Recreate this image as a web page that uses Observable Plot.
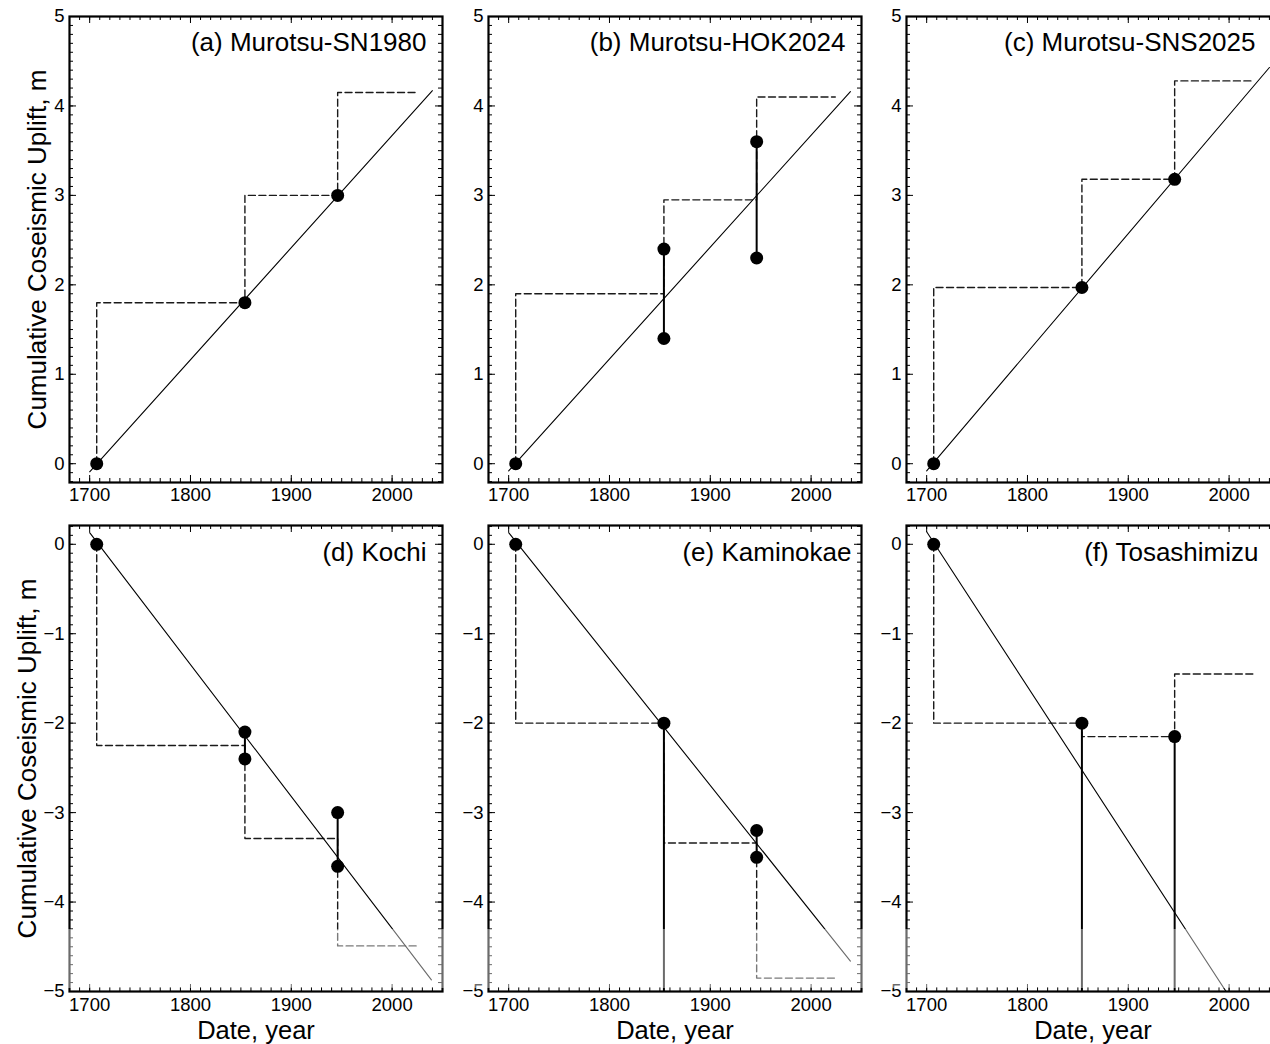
<!DOCTYPE html>
<html>
<head>
<meta charset="utf-8">
<script src="https://cdn.jsdelivr.net/npm/d3@7"></script>
<script src="https://cdn.jsdelivr.net/npm/@observablehq/plot@0.6"></script>
<style>
  body { margin: 0; background: #fff; }
  #fig { position: relative; width: 1270px; height: 1044px; overflow: hidden; background: #fff; }
  #fig svg { position: absolute; overflow: visible; }
  /* faded strip along the lower part of the bottom row */
  #haze { position: absolute; left: 66px; top: 929px; width: 1204px; height: 59px;
          background: rgba(255, 255, 255, 0.42); pointer-events: none; }
</style>
</head>
<body>
<div id="fig"></div>
<script>
const FONT = '"Liberation Sans", Arial, Helvetica, sans-serif';

// Shared axes
const xDomain = [1680, 2050];
const xTicks = [1700, 1800, 1900, 2000];
const xMinor = d3.range(168, 206).map(i => i * 10);
const upDomain = [-0.21, 5];
const upTicks = [0, 1, 2, 3, 4, 5];
const upMinor = d3.range(-2, 51).map(i => i / 10);
const downDomain = [-5, 0.21];
const downTicks = [-5, -4, -3, -2, -1, 0];
const downMinor = d3.range(-50, 3).map(i => i / 10);
const yTitle = "Cumulative Coseismic Uplift, m";
const xTitle = "Date, year";

// (a) Murotsu-SN1980 — [year, uplift]
const aPoints = [[1707, 0], [1854, 1.8], [1946, 3.0]];
const aRanges = [];
const aSteps = [[1707, 0], [1707, 1.8], [1854, 1.8], [1854, 3.0], [1946, 3.0], [1946, 4.15], [2024, 4.15]];
const aTrend = [[1700, -0.09], [2040, 4.17]];

// (b) Murotsu-HOK2024
const bPoints = [[1707, 0], [1854, 2.4], [1854, 1.4], [1946, 3.6], [1946, 2.3]];
const bRanges = [[1854, 1.4, 2.4], [1946, 2.3, 3.6]]; // [year, low, high]
const bSteps = [[1707, 0], [1707, 1.9], [1854, 1.9], [1854, 2.95], [1946, 2.95], [1946, 4.1], [2024, 4.1]];
const bTrend = [[1700, -0.08], [2039, 4.16]];

// (c) Murotsu-SNS2025
const cPoints = [[1707, 0], [1854, 1.97], [1946, 3.18]];
const cRanges = [];
const cSteps = [[1707, 0], [1707, 1.97], [1854, 1.97], [1854, 3.18], [1946, 3.18], [1946, 4.28], [2025, 4.28]];
const cTrend = [[1700, -0.08], [2040, 4.43]];

// (d) Kochi
const dPoints = [[1707, 0], [1854, -2.1], [1854, -2.4], [1946, -3.0], [1946, -3.6]];
const dRanges = [[1854, -2.4, -2.1], [1946, -3.6, -3.0]];
const dSteps = [[1707, 0], [1707, -2.25], [1854, -2.25], [1854, -3.29], [1946, -3.29], [1946, -4.49], [2024, -4.49]];
const dTrend = [[1700, 0.13], [2039, -4.87]];

// (e) Kaminokae
const ePoints = [[1707, 0], [1854, -2.0], [1946, -3.2], [1946, -3.5]];
const eRanges = [[1854, -5, -2.0], [1946, -3.5, -3.2]];
const eSteps = [[1707, 0], [1707, -2.0], [1854, -2.0], [1854, -3.34], [1946, -3.34], [1946, -4.85], [2024, -4.85]];
const eTrend = [[1700, 0.13], [2039, -4.66]];

// (f) Tosashimizu
const fPoints = [[1707, 0], [1854, -2.0], [1946, -2.15]];
const fRanges = [[1854, -5, -2.0], [1946, -5, -2.15]];
const fSteps = [[1707, 0], [1707, -2.0], [1854, -2.0], [1854, -2.15], [1946, -2.15], [1946, -1.45], [2025, -1.45]];
const fTrend = [[1700, 0.14], [1997, -5.0]];

const panels = [
  {title: "(a) Murotsu-SN1980",  titleDx: -16, row: 0, col: 0, pts: aPoints, ranges: aRanges, steps: aSteps, trend: aTrend},
  {title: "(b) Murotsu-HOK2024", titleDx: -16, row: 0, col: 1, pts: bPoints, ranges: bRanges, steps: bSteps, trend: bTrend},
  {title: "(c) Murotsu-SNS2025", titleDx: -24, row: 0, col: 2, pts: cPoints, ranges: cRanges, steps: cSteps, trend: cTrend},
  {title: "(d) Kochi",           titleDx: -16, row: 1, col: 0, pts: dPoints, ranges: dRanges, steps: dSteps, trend: dTrend},
  {title: "(e) Kaminokae",       titleDx: -10, row: 1, col: 1, pts: ePoints, ranges: eRanges, steps: eSteps, trend: eTrend},
  {title: "(f) Tosashimizu",     titleDx: -21, row: 1, col: 2, pts: fPoints, ranges: fRanges, steps: fSteps, trend: fTrend}
];

const fig = document.getElementById("fig");
const frameW = 373, frameH = 466;
const colLeft = [0, 448, 866];

for (const p of panels) {
  const top = p.row === 0;
  const mL = p.col === 0 ? 69 : 40, mR = 8;
  const mT = top ? 16 : 25, mB = top ? 30 : 53;
  const yMajor = top ? upTicks : downTicks;
  const yMinor = top ? upMinor : downMinor;
  const fmt = d3.format("d");

  const marks = [
    // inward tick marks on all four sides
    Plot.ruleX(xMinor, {insetTop: frameH - 4, stroke: "#000"}),
    Plot.ruleX(xMinor, {insetBottom: frameH - 4, stroke: "#000"}),
    Plot.ruleX(xTicks, {insetTop: frameH - 7, stroke: "#000"}),
    Plot.ruleX(xTicks, {insetBottom: frameH - 7, stroke: "#000"}),
    Plot.ruleY(yMinor, {insetRight: frameW - 4, stroke: "#000"}),
    Plot.ruleY(yMinor, {insetLeft: frameW - 4, stroke: "#000"}),
    Plot.ruleY(yMajor, {insetRight: frameW - 7, stroke: "#000"}),
    Plot.ruleY(yMajor, {insetLeft: frameW - 7, stroke: "#000"}),
    Plot.frame({stroke: "#000", strokeWidth: 2.2}),
    Plot.axisX(xTicks, {tickSize: 0, tickPadding: top ? 5 : 6, tickFormat: fmt, label: null}),
    Plot.axisY(yMajor, {tickSize: 0, tickPadding: 5, tickFormat: fmt, label: null}),
    // cumulative step history (dashed)
    Plot.line(p.steps, {x: d => d[0], y: d => d[1], stroke: "#1a1a1a", strokeWidth: 1.4,
      strokeDasharray: "7,3.5", clip: true}),
    // long-term trend
    Plot.line(p.trend, {x: d => d[0], y: d => d[1], stroke: "#000", strokeWidth: 1.1, clip: true}),
    // uncertainty ranges
    Plot.link(p.ranges, {x1: d => d[0], x2: d => d[0], y1: d => d[1], y2: d => d[2],
      stroke: "#000", strokeWidth: 2, clip: true}),
    Plot.dot(p.pts, {x: d => d[0], y: d => d[1], r: 6.5, fill: "#000"}),
    Plot.text([p.title], {text: d => d, frameAnchor: "top-right", dx: p.titleDx, dy: top ? 26 : 27,
      fontSize: 26, textAnchor: "end", lineAnchor: "middle", fill: "#000"})
  ];
  if (p.col === 0) {
    marks.push(Plot.text([yTitle], {text: d => d, frameAnchor: "left", rotate: -90,
      dx: top ? -32 : -42, fontSize: 26, textAnchor: "middle", lineAnchor: "middle", fill: "#000"}));
  }
  if (!top) {
    marks.push(Plot.text([xTitle], {text: d => d, frameAnchor: "bottom", dy: 47,
      fontSize: 25.5, textAnchor: "middle", lineAnchor: "bottom", fill: "#000"}));
  }

  const svg = Plot.plot({
    width: mL + frameW + mR,
    height: mT + frameH + mB,
    marginLeft: mL, marginRight: mR, marginTop: mT, marginBottom: mB,
    x: {domain: xDomain},
    y: {domain: top ? upDomain : downDomain},
    style: {fontFamily: FONT, fontSize: "18.5px", background: "transparent", overflow: "visible", color: "#000"},
    marks
  });
  svg.style.left = colLeft[p.col] + "px";
  svg.style.top = (top ? 0 : 500) + "px";
  fig.appendChild(svg);
}

const haze = document.createElement("div");
haze.id = "haze";
fig.appendChild(haze);
</script>
</body>
</html>
